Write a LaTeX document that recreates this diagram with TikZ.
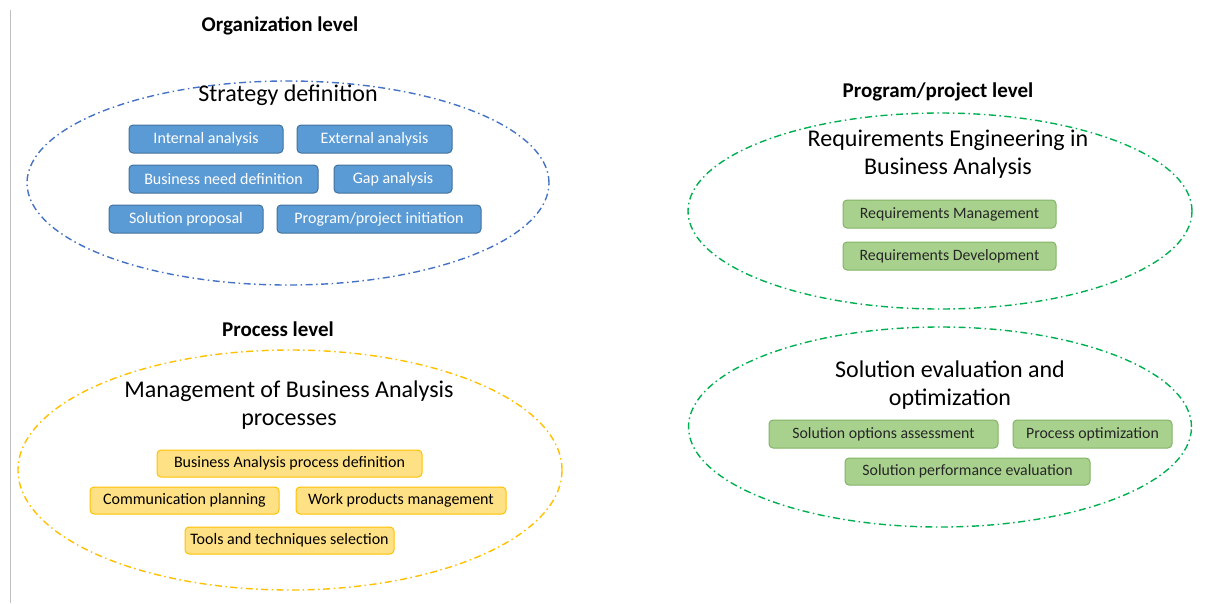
\documentclass[tikz,border=0pt]{standalone}
\usepackage{fontspec}
\setmainfont{Carlito}
\usetikzlibrary{positioning,shapes.geometric}
\definecolor{bluefill}{HTML}{5B9BD5}
\definecolor{blueline}{HTML}{41719C}
\definecolor{blueell}{HTML}{4472C4}
\definecolor{yelfill}{HTML}{FFD966}
\definecolor{yelline}{HTML}{FFC000}
\definecolor{grnfill}{HTML}{A9D18E}
\definecolor{grnline}{HTML}{82B366}
\definecolor{grnell}{HTML}{00B050}
\tikzset{
  x=1pt, y=-1pt,
  ell/.style={line width=1.4pt, dash pattern=on 7pt off 3.5pt on 1.5pt off 3.5pt, inner sep=0pt},
  bbox/.style={draw=blueline, fill=bluefill, line width=1pt, rounded corners=4pt, text=white, font=\fontsize{16}{18}\selectfont, inner sep=0pt},
  ybox/.style={draw=yelline, fill=yelfill!80!white, line width=1pt, rounded corners=4pt, text=black, font=\fontsize{16}{18}\selectfont, inner sep=0pt},
  gbox/.style={draw=grnline, fill=grnfill, line width=1pt, rounded corners=4pt, text=black!85, font=\fontsize{15.8}{18}\selectfont, inner sep=0pt},
  lvl/.style={font=\bfseries\fontsize{21}{24}\selectfont},
  ttl/.style={font=\fontsize{24}{28}\selectfont, align=center},
}
\newcommand{\rbox}[6]{\node[#1, minimum width=#4-#2, minimum height=#5-#3] (#6) at ({(#2+#4)/2},{(#3+#5)/2})}
\begin{document}
\begin{tikzpicture}
\useasboundingbox (0,0) rectangle (1210,603);
\draw[black!25, line width=1pt] (10.5,10) coordinate (vt) -- (10.5,603) coordinate (vb);

% Organization level
\node[lvl] (orgl) at (280,26) {Organization level};
\node[draw=blueell, ell, ellipse, minimum width=522, minimum height=204] (oell) at (288,183) {};
\node[ttl] (strat) at (288,95) {Strategy definition};
\rbox{bbox}{129}{125}{283}{153}{ia} {Internal analysis};
\rbox{bbox}{297}{125}{452}{153}{ea} {External analysis};
\rbox{bbox}{129}{165}{318}{193}{bn} {Business need definition};
\rbox{bbox}{334}{165}{452}{193}{ga} {Gap analysis};
\rbox{bbox}{109}{205}{263}{233}{sp} {Solution proposal};
\rbox{bbox}{277}{205}{481}{233}{pi} {Program/project initiation};

% Process level
\node[lvl] (procl) at (278,329) {Process level};
\node[draw=yelline, ell, ellipse, minimum width=544, minimum height=240] (pell) at (290,470) {};
\node[ttl] (mgmt) at (289,405) {Management of Business Analysis\\processes};
\rbox{ybox}{157}{450}{422}{477}{bapd} {Business Analysis process definition};
\rbox{ybox}{90}{487}{279}{514}{cp} {Communication planning};
\rbox{ybox}{296}{487}{506}{514}{wpm} {Work products management};
\rbox{ybox}{185}{527}{394}{554}{tts} {Tools and techniques selection};

% Program/project level
\node[lvl] (progl) at (938,92) {Program/project level};
\node[draw=grnell, ell, ellipse, minimum width=504, minimum height=196] (rell) at (940,211) {};
\node[ttl] (reba) at (948,154) {Requirements Engineering in\\Business Analysis};
\rbox{gbox}{843}{200}{1056}{228}{rm} {Requirements Management};
\rbox{gbox}{843}{242}{1056}{270}{rd} {Requirements Development};

\node[draw=grnell, ell, ellipse, minimum width=503, minimum height=200] (sell) at (940,427) {};
\node[ttl] (seo) at (950,385) {Solution evaluation and\\optimization};
\rbox{gbox}{769}{420}{998}{448}{soa} {Solution options assessment};
\rbox{gbox}{1013}{420}{1172}{448}{po} {Process optimization};
\rbox{gbox}{845}{458}{1090}{485}{spe} {Solution performance evaluation};
\end{tikzpicture}
\end{document}
